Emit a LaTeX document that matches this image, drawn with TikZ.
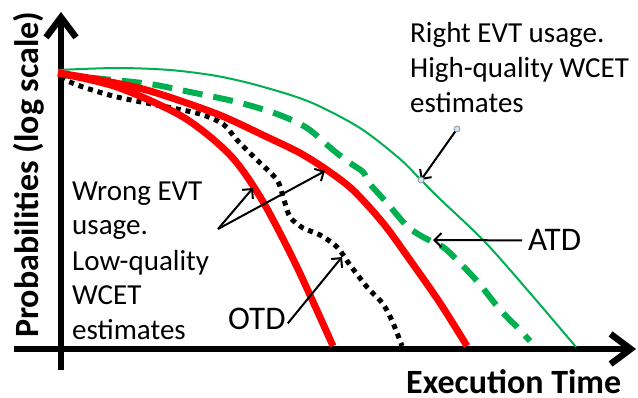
\documentclass[tikz,border=0pt]{standalone}
\usepackage{fontspec}
\setmainfont{Carlito}
\usetikzlibrary{arrows.meta}
\definecolor{evtgreen}{RGB}{0,176,80}
\definecolor{handlefill}{RGB}{214,228,238}
\definecolor{handledraw}{RGB}{130,150,165}
\begin{document}
\begin{tikzpicture}[x=1pt,y=-1pt,
  axis/.style={line width=6.5pt,-{Straight Barb[length=20pt,width=30pt]}},
  annot/.style={line width=2pt,-{Straight Barb[length=7pt,width=14pt]}},
  txt/.style={font=\fontsize{29}{35}\selectfont,align=left,inner sep=0pt},
  bigtxt/.style={font=\fontsize{33}{40}\selectfont,inner sep=0pt},
  axlabel/.style={font=\fontsize{34}{40}\selectfont\bfseries,inner sep=0pt},
  redcurve/.style={red,line width=7pt},
  atdcurve/.style={evtgreen,line width=6pt,dash pattern=on 20pt off 11pt},
  otdcurve/.style={black,line width=5pt,dash pattern=on 5pt off 5pt},
  evtcurve/.style={evtgreen,line width=2pt},
  handle/.style={circle,draw=handledraw,fill=handlefill,line width=0.8pt,minimum size=6pt,inner sep=0pt}]
\useasboundingbox (0,0) rectangle (638,398);

% axes
\coordinate (yfoot) at (61,370);
\coordinate (ytop) at (61,12);
\coordinate (xfoot) at (14,349);
\coordinate (xend) at (636,349);
\draw[axis] (yfoot) -- (ytop);
\draw[axis] (xfoot) -- (xend);

% axis labels
\node[axlabel,rotate=90,anchor=base west] (ylab) at (38,338) {Probabilities (log scale)};
\node[axlabel,anchor=base west] (xlab) at (406,394) {Execution Time};

% distributions
\draw[evtcurve] plot[smooth] coordinates {(58,70) (117,68) (170,70) (217,76) (260,86) (310,102) (360,128) (400,159) (421,180) (440,199) (485,242) (530,293) (576,347)};
\draw[atdcurve] plot[smooth] coordinates {(60,75) (103,79) (150,84) (190,92) (237,102) (277,114) (307,128) (333,150) (350,163) (363,172) (370,184) (387,203) (407,226) (423,237) (443,247) (457,260) (477,281) (497,306) (507,317) (520,330) (530,341)};
\draw[otdcurve] plot[smooth] coordinates {(60,78) (83,87) (117,97) (167,107) (200,114) (223,124) (237,140) (257,160) (277,180) (284,200) (290,217) (303,228) (320,235) (337,247) (350,265) (367,287) (383,304) (393,323) (402,346)};
\draw[redcurve] plot[smooth] coordinates {(58,73) (100,80) (150,91) (217,114) (267,137) (300,153) (327,170) (353,190) (383,223) (410,260) (440,303) (467,346)};
\draw[redcurve] plot[smooth] coordinates {(58,73) (117,87) (183,117) (230,155) (262,200) (296,265) (333,346)};

% annotations
\node[txt,anchor=base west] (wrong) at (72,340) {Wrong EVT\\usage.\\Low-quality\\WCET\\estimates};
\node[txt,anchor=base west] (right) at (410,113) {Right EVT usage.\\High-quality WCET\\estimates};
\node[bigtxt,anchor=base west] (otd) at (228,330) {OTD};
\node[bigtxt,anchor=base west] (atd) at (528,251) {ATD};

\coordinate (wrongsrc) at (218,229);
\coordinate (innertip) at (253,188);
\coordinate (outertip) at (325,171);
\coordinate (otdtip) at (342,257);
\coordinate (atdtip) at (433,240);
\coordinate (rightsrc) at (457,129);
\coordinate (righttip) at (421,180);

\draw[annot] (wrongsrc) -- (innertip);
\draw[annot] (wrongsrc) -- (outertip);
\draw[annot] ([xshift=2pt,yshift=-4pt]otd.east) -- (otdtip);
\draw[annot] ([xshift=-6pt]atd.west) -- (atdtip);
\draw[annot] (rightsrc) -- (righttip);
\node[handle] (h1) at (rightsrc) {};
\node[handle] (h2) at (righttip) {};
\end{tikzpicture}
\end{document}
